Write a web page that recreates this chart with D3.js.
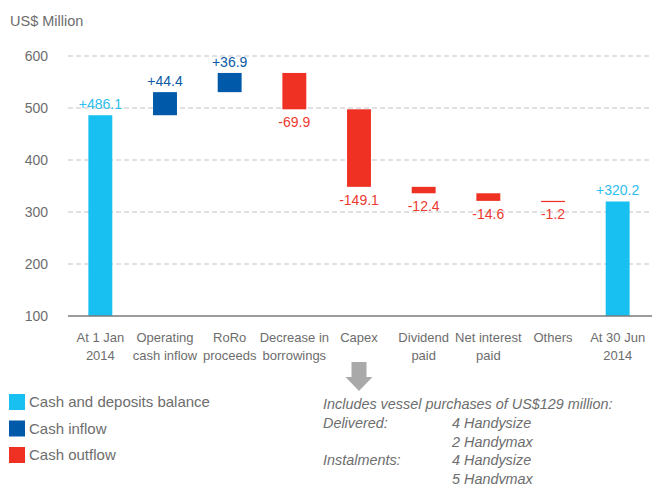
<!DOCTYPE html>
<html>
<head>
<meta charset="utf-8">
<script src="https://cdn.jsdelivr.net/npm/d3@7"></script>
<style>
  body { margin: 0; background: #fff; }
  svg { display: block; font-family: "Liberation Sans", Arial, sans-serif; }
</style>
</head>
<body>
<div id="chart"></div>
<script>
// Cash flow waterfall, 1H 2014
const categories = [
  ["At 1 Jan", "2014"], ["Operating", "cash inflow"], ["RoRo", "proceeds"],
  ["Decrease in", "borrowings"], ["Capex"], ["Dividend", "paid"],
  ["Net interest", "paid"], ["Others"], ["At 30 Jun", "2014"]
];
const changes = [486.1, 44.4, 36.9, -69.9, -149.1, -12.4, -14.6, -1.2, 320.2];
const kinds = ["balance", "inflow", "inflow", "outflow", "outflow", "outflow", "outflow", "outflow", "balance"];
const labels = ["+486.1", "+44.4", "+36.9", "-69.9", "-149.1", "-12.4", "-14.6", "-1.2", "+320.2"];
const yTicks = [100, 200, 300, 400, 500, 600];

const legendItems = [
  { kind: "balance", text: "Cash and deposits balance" },
  { kind: "inflow", text: "Cash inflow" },
  { kind: "outflow", text: "Cash outflow" }
];
const noteLines = [
  ["Includes vessel purchases of US$129 million:", ""],
  ["Delivered:", "4 Handysize"],
  ["", "2 Handymax"],
  ["Instalments:", "4 Handysize"],
  ["", "5 Handymax"]
];

const color = { balance: "#17c0f0", inflow: "#0059a9", outflow: "#ef3124" };
const labelColor = { balance: "#2dbdee", inflow: "#0a5aa6", outflow: "#ee3a2f" };
const grey = "#6d6d6d";

const W = 652, H = 484;
const svg = d3.select("#chart").append("svg").attr("width", W).attr("height", H);

// compute floating bar extents
let running = 0;
const bars = changes.map((v, i) => {
  let lo, hi;
  if (kinds[i] === "balance") { lo = 100; hi = v; running = v; }
  else { const start = running; running += v; lo = Math.min(start, running); hi = Math.max(start, running); }
  return { i, lo, hi, kind: kinds[i], label: labels[i] };
});

const x = d3.scaleBand().domain(d3.range(categories.length)).range([68, 650]).paddingInner(0.63).paddingOuter(0.315);
const y = d3.scaleLinear().domain([100, 600]).range([316, 56]);

// gridlines
svg.append("g").selectAll("line")
  .data(yTicks.filter(t => t > 100))
  .join("line")
  .attr("x1", 68).attr("x2", W)
  .attr("y1", d => y(d)).attr("y2", d => y(d))
  .attr("stroke", "#c4c4c4").attr("stroke-width", 1.2).attr("stroke-dasharray", "5,3");

// y axis labels
const yAxis = svg.append("g")
  .attr("transform", "translate(48,0)")
  .call(d3.axisLeft(y).tickValues(yTicks).tickSize(0).tickPadding(0));
yAxis.select(".domain").remove();
yAxis.selectAll("text").attr("font-size", 14).attr("fill", grey).attr("font-family", "Liberation Sans, Arial");

svg.append("text").attr("x", 10).attr("y", 26).attr("font-size", 14.5).attr("fill", grey).text("US$ Million");

// bars
svg.append("g").selectAll("rect")
  .data(bars)
  .join("rect")
  .attr("x", d => x(d.i))
  .attr("width", x.bandwidth())
  .attr("y", d => y(d.hi))
  .attr("height", d => Math.max(1.2, y(d.lo) - y(d.hi)))
  .attr("fill", d => color[d.kind]);

// value labels
svg.append("g").selectAll("text")
  .data(bars)
  .join("text")
  .attr("x", d => x(d.i) + x.bandwidth() / 2)
  .attr("y", d => d.kind === "outflow" ? y(d.lo) + 18 : y(d.hi) - 6)
  .attr("text-anchor", "middle")
  .attr("font-size", 14)
  .attr("fill", d => labelColor[d.kind])
  .text(d => d.label);

// baseline axis
svg.append("line").attr("x1", 68).attr("x2", W).attr("y1", y(100)).attr("y2", y(100))
  .attr("stroke", "#7a7a7a").attr("stroke-width", 1.5);

// category labels
const cat = svg.append("g").selectAll("text")
  .data(categories)
  .join("text")
  .attr("text-anchor", "middle")
  .attr("font-size", 13)
  .attr("fill", grey)
  .attr("transform", (d, i) => `translate(${x(i) + x.bandwidth() / 2},342)`);
cat.selectAll("tspan")
  .data(d => d)
  .join("tspan")
  .attr("x", 0)
  .attr("y", (d, j) => j * 17.5)
  .text(d => d);

// legend
const legend = svg.append("g").attr("transform", "translate(9,394)");
legendItems.forEach((it, k) => {
  const row = legend.append("g").attr("transform", `translate(0,${k * 26.5})`);
  row.append("rect").attr("width", 16).attr("height", 16).attr("fill", color[it.kind]);
  row.append("text").attr("x", 20).attr("y", 13).attr("font-size", 15).attr("fill", grey).text(it.text);
});

// arrow under Capex
const ax = x(4) + x.bandwidth() / 2;
svg.append("path")
  .attr("d", `M${ax - 7.5},362 H${ax + 7.5} V377 H${ax + 13.5} L${ax},391 L${ax - 13.5},377 H${ax - 7.5} Z`)
  .attr("fill", "#a9a9a9");

// note
const note = svg.append("g").attr("font-size", 14.4).attr("font-style", "italic").attr("fill", grey);
noteLines.forEach((ln, k) => {
  note.append("text").attr("x", 323).attr("y", 409 + k * 18.8).text(ln[0]);
  note.append("text").attr("x", 452).attr("y", 409 + k * 18.8).text(ln[1]);
});
</script>
</body>
</html>
